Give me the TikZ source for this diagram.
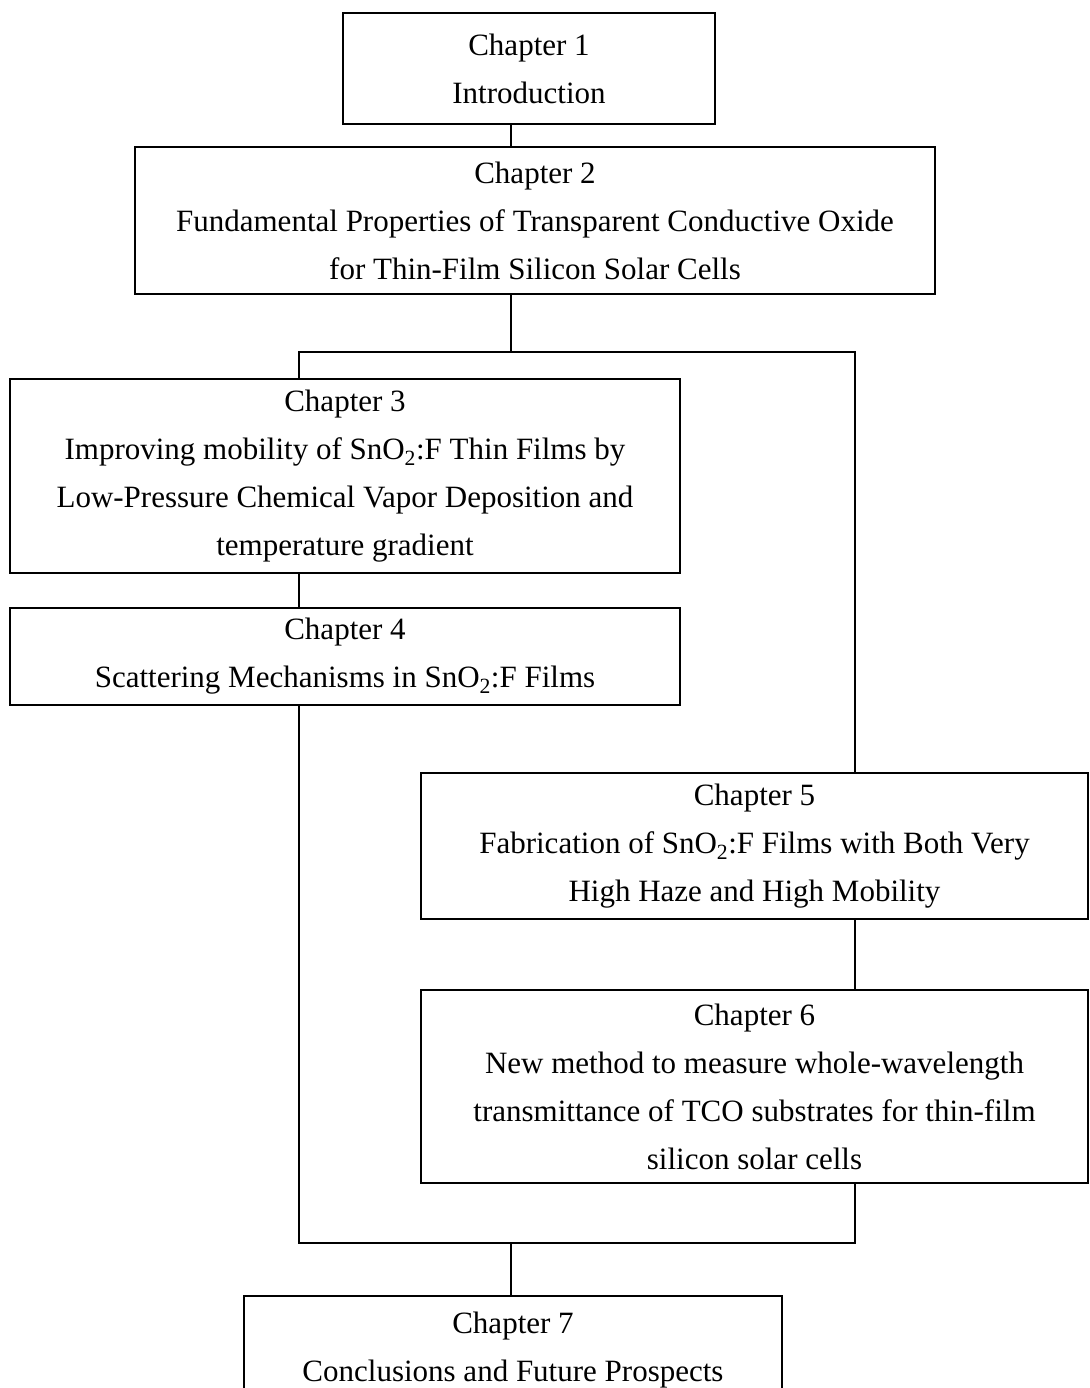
\documentclass[tikz,border=0pt]{standalone}
\usepackage{fontspec}
\setmainfont{Liberation Serif}
\usepackage{tikz}
\usetikzlibrary{positioning, calc}

\begin{document}
\begin{tikzpicture}[
    x=1pt, y=-1pt,
    chapter/.style={draw, line width=2pt, align=center, inner sep=0pt, font=\fontsize{31}{48}\selectfont},
    link/.style={line width=1.4pt}
]
    \useasboundingbox (0,0) rectangle (1089,1388);
    \clip (0,0) rectangle (1089,1388);

    % Chapter boxes
    \node[chapter, minimum width=372pt, minimum height=111pt] (ch1) at (529,68.5) {Chapter 1\\Introduction};
    \node[chapter, minimum width=800pt, minimum height=147pt] (ch2) at (535,220.5) {Chapter 2\\Fundamental Properties of Transparent Conductive Oxide\\for Thin-Film Silicon Solar Cells};
    \node[chapter, minimum width=670pt, minimum height=194pt] (ch3) at (345,476) {Chapter 3\\Improving mobility of SnO\textsubscript{2}:F Thin Films by\\Low-Pressure Chemical Vapor Deposition and\\temperature gradient};
    \node[chapter, minimum width=670pt, minimum height=97pt, below=33pt of ch3] (ch4) {Chapter 4\\Scattering Mechanisms in SnO\textsubscript{2}:F Films};
    \node[chapter, minimum width=667pt, minimum height=146pt] (ch5) at (754.5,846) {Chapter 5\\Fabrication of SnO\textsubscript{2}:F Films with Both Very\\High Haze and High Mobility};
    \node[chapter, minimum width=667pt, minimum height=193pt, below=69pt of ch5] (ch6) {Chapter 6\\New method to measure whole-wavelength\\transmittance of TCO substrates for thin-film\\silicon solar cells};
    \node[chapter, minimum width=538pt, minimum height=108pt] (ch7) at (513,1350) {Chapter 7\\Conclusions and Future Prospects};

    % Branch points
    \coordinate (split) at (511,352);
    \coordinate (join) at (511,1243);
    \coordinate (lcol) at (299,0);
    \coordinate (rcol) at (855,0);

    % Connections
    \draw[link] (ch1.south -| split) -- (ch2.north -| split);
    \draw[link] (ch2.south -| split) -- (split);
    \draw[link] (ch3.north -| lcol) |- (split) -| (ch5.north -| rcol);
    \draw[link] (ch3.south -| lcol) -- (ch4.north -| lcol);
    \draw[link] (ch5.south -| rcol) -- (ch6.north -| rcol);
    \draw[link] (ch4.south -| lcol) |- (join) -| (ch6.south -| rcol);
    \draw[link] (join) -- (ch7.north -| join);
\end{tikzpicture}
\end{document}
